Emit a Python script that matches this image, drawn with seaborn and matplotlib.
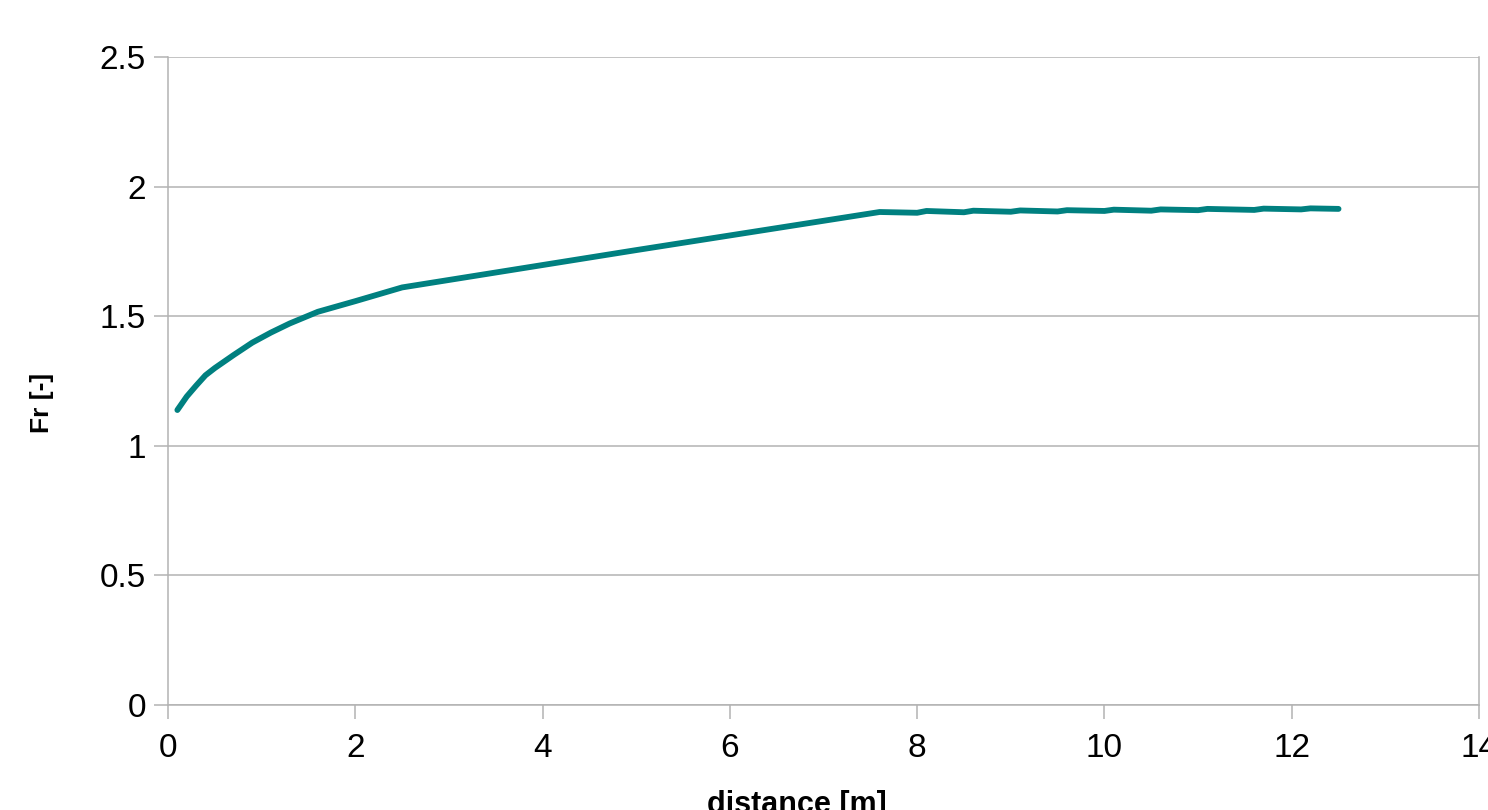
import matplotlib
matplotlib.use("Agg")
import matplotlib.pyplot as plt
import seaborn as sns
import pandas as pd

distance = [0.1, 0.2, 0.3, 0.4, 0.5, 0.7, 0.9, 1.1, 1.3, 1.6, 2.0, 2.5,
            5.0, 7.6,
            8.0, 8.1, 8.5, 8.6, 9.0, 9.1, 9.5, 9.6, 10.0, 10.1, 10.5, 10.6,
            11.0, 11.1, 11.6, 11.7, 12.1, 12.2, 12.5]
fr = [1.138, 1.190, 1.232, 1.272, 1.300, 1.350, 1.398, 1.437, 1.472, 1.517, 1.558, 1.611,
      1.755, 1.902,
      1.899, 1.906, 1.901, 1.907, 1.903, 1.908, 1.904, 1.909, 1.906, 1.911, 1.907, 1.912,
      1.909, 1.914, 1.910, 1.915, 1.912, 1.916, 1.914]

x_ticks = [0, 2, 4, 6, 8, 10, 12, 14]
y_ticks = [0, 0.5, 1, 1.5, 2, 2.5]
y_tick_labels = ["0", "0.5", "1", "1.5", "2", "2.5"]

df = pd.DataFrame({"distance [m]": distance, "Fr [-]": fr})

sns.set_theme(style="white")
plt.rcParams["font.family"] = ["Liberation Sans", "DejaVu Sans"]

fig = plt.figure(figsize=(14.88, 8.10), dpi=100)
ax = fig.add_axes([168 / 1488, 105 / 810, 1311 / 1488, 648 / 810])

sns.lineplot(data=df, x="distance [m]", y="Fr [-]", ax=ax, color="#008080",
             linewidth=4.2, sort=False, estimator=None)

ax.set_xlim(0, 14)
ax.set_ylim(0, 2.5)
ax.set_xticks(x_ticks)
ax.set_xticklabels([str(t) for t in x_ticks])
ax.set_yticks(y_ticks)
ax.set_yticklabels(y_tick_labels)

grid_c = "#b3b3b3"
ax.yaxis.grid(True, color=grid_c, linewidth=1.1)
ax.xaxis.grid(False)
ax.set_axisbelow(True)
for s in ["left", "right", "bottom", "top"]:
    ax.spines[s].set_color(grid_c)
    ax.spines[s].set_linewidth(1.1)
ax.spines["top"].set_visible(False)

ax.tick_params(axis="both", which="major", labelsize=24, colors=grid_c,
               labelcolor="black", length=10, width=1.1, direction="out")
ax.tick_params(axis="y", pad=6, left=True)
ax.tick_params(axis="x", pad=10, bottom=True)

ax.set_xlabel("distance [m]", fontsize=22, fontweight="bold", color="black")
ax.xaxis.set_label_coords(0.48, -0.131)
ax.xaxis.label.set_verticalalignment("top")
ax.set_ylabel("Fr [-]", fontsize=19, fontweight="bold", color="black")
ax.yaxis.set_label_coords(-0.096, 0.466)
ax.yaxis.label.set_verticalalignment("center")

fig.savefig("out.png", dpi=100)
